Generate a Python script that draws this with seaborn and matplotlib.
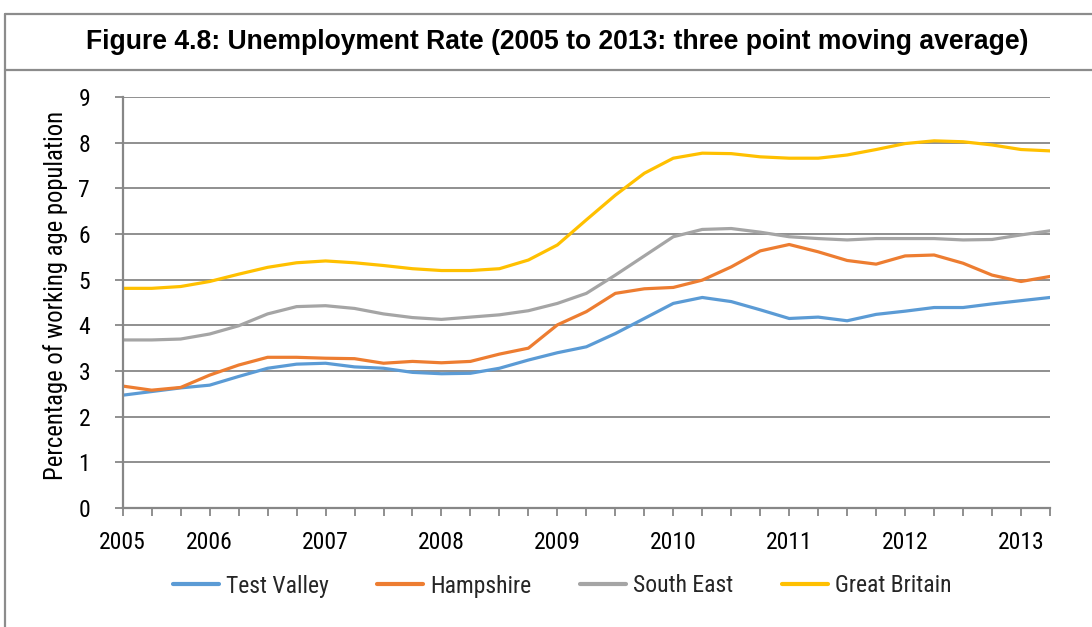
import matplotlib
matplotlib.use("Agg")
import matplotlib.pyplot as plt
from matplotlib.lines import Line2D
import seaborn as sns
import pandas as pd

# Quarterly three point moving average, 2005 Q1 .. 2013 Q1 (33 points)
quarters = list(range(33))
tick_labels = {0: "2005", 3: "2006", 7: "2007", 11: "2008", 15: "2009",
               19: "2010", 23: "2011", 27: "2012", 31: "2013"}

test_valley = [2.47, 2.55, 2.63, 2.69, 2.88, 3.06, 3.15, 3.17, 3.09, 3.06, 2.97,
               2.94, 2.95, 3.06, 3.24, 3.40, 3.53, 3.82, 4.15, 4.48, 4.61, 4.52,
               4.34, 4.15, 4.18, 4.10, 4.24, 4.31, 4.39, 4.39, 4.47, 4.54, 4.61]
hampshire = [2.67, 2.58, 2.64, 2.91, 3.13, 3.30, 3.30, 3.28, 3.27, 3.17, 3.21,
             3.18, 3.21, 3.37, 3.50, 4.01, 4.30, 4.70, 4.80, 4.83, 4.99, 5.28,
             5.63, 5.77, 5.61, 5.42, 5.34, 5.52, 5.54, 5.36, 5.10, 4.96, 5.07]
south_east = [3.68, 3.68, 3.70, 3.81, 3.99, 4.25, 4.41, 4.43, 4.37, 4.25, 4.17,
              4.13, 4.18, 4.23, 4.32, 4.48, 4.70, 5.10, 5.52, 5.94, 6.10, 6.12,
              6.04, 5.94, 5.90, 5.87, 5.90, 5.90, 5.90, 5.87, 5.88, 5.98, 6.07]
great_britain = [4.81, 4.81, 4.85, 4.96, 5.12, 5.27, 5.37, 5.41, 5.37, 5.31, 5.24,
                 5.20, 5.20, 5.24, 5.43, 5.76, 6.31, 6.85, 7.33, 7.66, 7.77, 7.76,
                 7.69, 7.66, 7.66, 7.73, 7.85, 7.98, 8.04, 8.02, 7.95, 7.85, 7.82]

series_names = ["Test Valley", "Hampshire", "South East", "Great Britain"]
series_values = [test_valley, hampshire, south_east, great_britain]
colors = ["#5B9BD5", "#ED7D31", "#A5A5A5", "#FFC000"]

df = pd.concat(
    [pd.DataFrame({"quarter": quarters, "rate": vals, "area": name})
     for name, vals in zip(series_names, series_values)],
    ignore_index=True,
)

sns.set_theme(style="white")
plt.rcParams["font.family"] = ["Roboto Condensed", "DejaVu Sans"]

fig = plt.figure(figsize=(10.92, 6.27), dpi=100)
ax = fig.add_axes([122.7 / 1092, 1 - 508 / 627, (1050 - 122.7) / 1092, (508 - 97) / 627])

sns.lineplot(data=df, x="quarter", y="rate", hue="area", palette=colors,
             hue_order=series_names, linewidth=2.3, ax=ax, legend=False)

grid_col = "#878787"
ax.set_xlim(0, 32)
ax.set_ylim(0, 9)
ax.set_yticks(range(10))
ax.set_yticklabels([str(v) for v in range(10)])
ax.set_xticks(quarters)
ax.set_xticklabels([tick_labels.get(q, "") for q in quarters])
ax.yaxis.grid(True, color=grid_col, linewidth=1.3)
ax.xaxis.grid(False)
ax.set_axisbelow(True)
for side in ["top", "right"]:
    ax.spines[side].set_visible(False)
for side in ["left", "bottom"]:
    ax.spines[side].set_color(grid_col)
    ax.spines[side].set_linewidth(1.6)
ax.tick_params(axis="y", which="major", direction="out", length=5.5, width=1.3,
               color=grid_col, pad=18, labelsize=17, labelcolor="black", left=True)
ax.tick_params(axis="x", which="major", direction="out", length=5.5, width=1.3,
               color=grid_col, pad=11, labelsize=17, labelcolor="black", bottom=True)
ax.set_xlabel("")
ax.set_ylabel("")

fig.text(56 / 1092, 1 - 295 / 627, "Percentage of working age population",
         rotation=90, ha="center", va="center", fontsize=17.7, color="black")

fig.text(557 / 1092, 1 - 42 / 627,
         "Figure 4.8: Unemployment Rate (2005 to 2013: three point moving average)",
         ha="center", va="center", fontsize=19.1, fontweight="bold", color="black",
         family=["Liberation Sans", "DejaVu Sans"])

# Frame around the figure and the title strip
frame_col = "#8c8c8c"
x0, ytop, ysep = 5 / 1092, 1 - 14 / 627, 1 - 70 / 627
fig.add_artist(Line2D([x0, 1], [ytop, ytop], color=frame_col, linewidth=1.6))
fig.add_artist(Line2D([x0, 1], [ysep, ysep], color=frame_col, linewidth=1.6))
fig.add_artist(Line2D([x0, x0], [0, ytop], color=frame_col, linewidth=1.6))

handles = [Line2D([0], [0], color=c, linewidth=3) for c in colors]
fig.legend(handles, series_names, loc="center", ncol=4,
           bbox_to_anchor=(562 / 1092, 1 - 586 / 627), frameon=False,
           fontsize=17, handlelength=1.95, handletextpad=0.3, columnspacing=2.05)

fig.savefig("out.png", dpi=100, facecolor="white")
